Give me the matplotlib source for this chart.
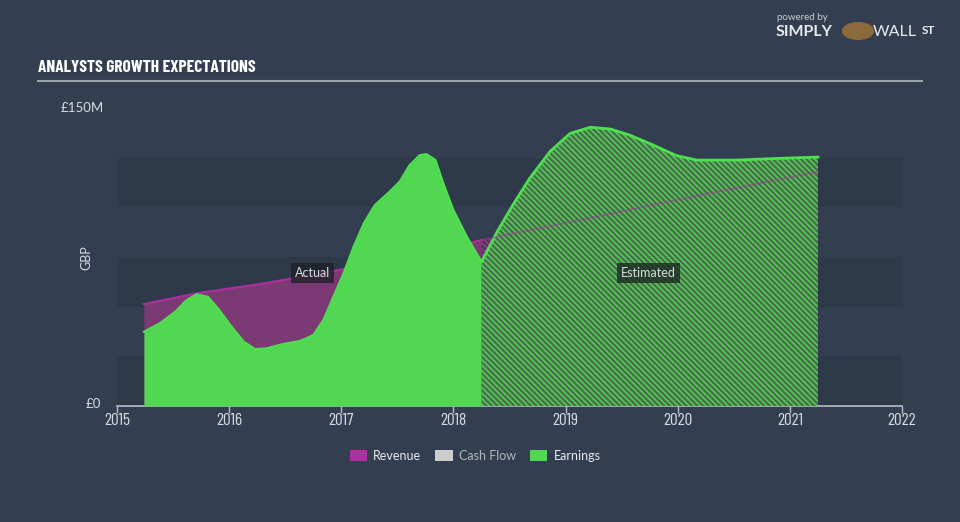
import matplotlib
matplotlib.use("Agg")
import matplotlib.pyplot as plt
from matplotlib.patches import Patch
import matplotlib as mpl

# ---------------- data ----------------
rev_act_x = [2015.24, 2015.71, 2016.31, 2016.90, 2017.70, 2018.25]
rev_act_y = [51.3, 56.7, 61.7, 67.6, 76.0, 83.5]
rev_est_x = [2018.25, 2018.35, 2019.34, 2020.23, 2021.25]
rev_est_y = [83.5, 84.7, 96.1, 106.5, 117.9]

earn_act_x = [2015.24, 2015.38, 2015.52, 2015.62, 2015.71, 2015.81, 2015.90, 2016.01,
              2016.13, 2016.23, 2016.33, 2016.48, 2016.63, 2016.75, 2016.84, 2016.93,
              2017.02, 2017.11, 2017.20, 2017.30, 2017.43, 2017.52, 2017.61, 2017.70,
              2017.76, 2017.84, 2017.91, 2018.00, 2018.12, 2018.25]
earn_act_y = [37.4, 41.6, 47.5, 53.3, 56.2, 55.0, 49.2, 40.8,
              32.4, 28.7, 29.0, 31.2, 32.7, 35.7, 43.3, 55.0,
              66.8, 80.2, 91.9, 101.2, 107.9, 112.9, 121.3, 126.3,
              126.8, 123.8, 112.1, 98.6, 85.2, 72.6]
earn_est_x = [2018.25, 2018.39, 2018.53, 2018.68, 2018.86, 2019.04, 2019.22, 2019.40,
              2019.57, 2019.78, 2019.99, 2020.17, 2020.53, 2020.88, 2021.25]
earn_est_y = [72.6, 87.7, 101.2, 114.6, 128.0, 137.2, 140.3, 139.4,
              136.4, 131.4, 126.0, 123.8, 123.8, 124.6, 125.3]

x_ticks = [2015, 2016, 2017, 2018, 2019, 2020, 2021, 2022]
band_ranges = [(0, 25), (50, 75), (100, 125)]
legend_labels = ["Revenue", "Cash Flow", "Earnings"]

# ---------------- style ----------------
BG = "#333f50"
BAND = "#2e3949"
PURPLE_FILL = "#7b3a74"
PURPLE_LINE = "#b02fa0"
GREEN = "#52d752"
GREEN_LINE = "#4ee04e"
HATCH_FACE = "#4a7050"
CASH = "#cccccc"
TXT = "#d8dce0"

narrow = ["Barlow Condensed", "DejaVu Sans"]
plain = ["Lato", "DejaVu Sans"]

fig = plt.figure(figsize=(9.6, 5.22), dpi=100, facecolor=BG)
ax = fig.add_axes([117/960, 1-406/522, 785/960, 298/522])
ax.set_facecolor(BG)
ax.set_xlim(2015, 2022)
ax.set_ylim(0, 150)

for lo, hi in band_ranges:
    ax.axhspan(lo, hi, color=BAND, zorder=0, lw=0)

mpl.rcParams['hatch.linewidth'] = 1.0

# Revenue actual
ax.fill_between(rev_act_x, 0, rev_act_y, color=PURPLE_FILL, lw=0, zorder=1)
ax.plot(rev_act_x, rev_act_y, color=PURPLE_LINE, lw=1.5, zorder=2)
# Revenue estimated (hatched)
ax.fill_between(rev_est_x, 0, rev_est_y, facecolor="#4a3a56", edgecolor="#a0359a",
                hatch="\\\\\\\\\\\\", lw=0, zorder=1)

# Earnings actual
ax.fill_between(earn_act_x, 0, earn_act_y, color=GREEN, lw=0, zorder=3)
ax.plot(earn_act_x, earn_act_y, color=GREEN_LINE, lw=1.5, zorder=4)
# Earnings estimated
ax.fill_between(earn_est_x, 0, earn_est_y, facecolor=HATCH_FACE, edgecolor=GREEN,
                hatch="\\\\\\\\\\\\", lw=0, zorder=3)
ax.plot(earn_est_x, earn_est_y, color=GREEN_LINE, lw=2, zorder=4)
# faint revenue line through estimated
ax.plot(rev_est_x, rev_est_y, color=PURPLE_LINE, lw=1.2, alpha=0.5, zorder=5)

# Axes styling
for s in ["top", "right", "left"]:
    ax.spines[s].set_visible(False)
ax.spines["bottom"].set_color("#b8bec6")
ax.spines["bottom"].set_linewidth(1.2)
ax.set_xticks(x_ticks)
ax.set_xticklabels([str(t) for t in x_ticks], family=narrow, fontsize=12.5, color=TXT)
ax.tick_params(axis="x", length=5, color="#b8bec6", width=1, pad=0)
ax.set_yticks([])

# Y labels
fig.text(82/960, 1-108/522, "£150M", ha="center", va="center", fontsize=9.5,
         color=TXT, family=plain)
fig.text(93/960, 1-404/522, "£0", ha="center", va="center", fontsize=9.5,
         color=TXT, family=plain)
fig.text(86/960, 1-258/522, "GBP", ha="center", va="center", fontsize=9,
         color=TXT, rotation=90, family=plain)

# Annotations
ax.text(2016.74, 67, "Actual", ha="center", va="center", fontsize=9, color=TXT,
        family=plain, zorder=10,
        bbox=dict(boxstyle="square,pad=0.3", fc="#1e2228", ec="none", alpha=0.8))
ax.text(2019.74, 67, "Estimated", ha="center", va="center", fontsize=9, color=TXT,
        family=plain, zorder=10,
        bbox=dict(boxstyle="square,pad=0.3", fc="#1e2a22", ec="none", alpha=0.8))

# Title
fig.text(38/960, 1-68/522, "ANALYSTS GROWTH EXPECTATIONS", ha="left", va="center",
         fontsize=12.5, fontweight="bold", color="white", family=narrow)
fig.add_artist(plt.Line2D([38/960, 922/960], [1-81/522, 1-81/522],
                          color="#9aa2ac", lw=1.5, transform=fig.transFigure))

# Branding
fig.text(777/960, 1-18/522, "powered by", ha="left", va="center", fontsize=7,
         color="#c8ccd0", family=plain)
fig.text(776/960, 1-32/522, "SIMPLY", ha="left", va="center", fontsize=11.5,
         fontweight="bold", color="#e8eaec", family=plain)
fig.add_artist(mpl.patches.Circle((858/960, 1-31/522), 0.016, transform=fig.transFigure,
                                  color="#8a6a3a"))
fig.text(873/960, 1-32/522, "WALL", ha="left", va="center", fontsize=11.5,
         color="#e8eaec", family=plain)
fig.text(922/960, 1-30/522, "ST", ha="left", va="center", fontsize=8.5,
         fontweight="bold", color="#e8eaec", family=plain)

# Legend
handles = [Patch(facecolor=PURPLE_LINE, edgecolor="none"),
           Patch(facecolor=CASH, edgecolor="none"),
           Patch(facecolor=GREEN, edgecolor="none")]
leg = fig.legend(handles, legend_labels, loc="center", bbox_to_anchor=(475/960, 1-456/522),
                 ncol=3, frameon=False, handlelength=1.4, handleheight=1.0,
                 columnspacing=1.1, handletextpad=0.5, prop={"family": plain, "size": 9})
for t, c in zip(leg.get_texts(), ["#e8eaec", "#b0b6bc", "#e8eaec"]):
    t.set_color(c)

fig.savefig("out.png", dpi=100, facecolor=BG)
